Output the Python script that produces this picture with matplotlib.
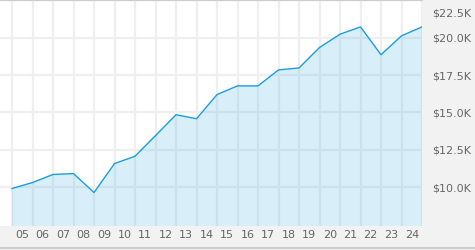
import numpy as np
import matplotlib
matplotlib.use("Agg")
import matplotlib.pyplot as plt
from matplotlib.transforms import ScaledTranslation

# yearly values, one point per year boundary (2005 .. 2025)
values = [9910, 10310, 10850, 10910, 9640, 11580, 12070, 13450, 14850, 14580,
          16200, 16780, 16780, 17850, 17980, 19350, 20240, 20730, 18870, 20130,
          20730]
year_labels = ['05', '06', '07', '08', '09', '10', '11', '12', '13', '14',
               '15', '16', '17', '18', '19', '20', '21', '22', '23', '24']
y_ticks = [10000, 12500, 15000, 17500, 20000, 22500]
y_tick_labels = ['$10.0K', '$12.5K', '$15.0K', '$17.5K', '$20.0K', '$22.5K']

x = np.arange(len(values))

fig = plt.figure(figsize=(4.75, 2.5), dpi=100, facecolor='#f2f2f2')
ax = fig.add_axes([0, 24 / 250, 422 / 475, 226 / 250])
ax.set_facecolor('white')

# translucent fill so the grid shows through slightly
ax.fill_between(x, values, 0, color='#1a9ee0', alpha=0.17, lw=0, zorder=2)
ax.plot(x, values, color='#1a9ee0', lw=1.0, zorder=3)

ax.set_xlim(-12 / 20.5, len(values) - 1)
ax.set_ylim(7400, 22530)

# grid lines at each point, labels centred between them
ax.set_xticks(x, minor=False)
ax.set_xticklabels([])
ax.set_xticks(x[:-1] + 0.5, minor=True)
ax.set_xticklabels(year_labels, minor=True)
ax.set_yticks(y_ticks)
ax.set_yticklabels(y_tick_labels)
ax.yaxis.tick_right()

ax.set_axisbelow(True)
ax.grid(True, which='major', color='#efefef', lw=1.6)
ax.tick_params(which='both', length=0)
ax.tick_params(axis='x', which='minor', labelsize=8, labelcolor='#666666', pad=3)
ax.tick_params(axis='y', labelsize=8, labelcolor='#666666', pad=7)

for lab in ax.get_yticklabels():
    lab.set_horizontalalignment('left')
top = ax.get_yticklabels()[-1]
top.set_transform(top.get_transform() + ScaledTranslation(0, -12 / 100, fig.dpi_scale_trans))

for s in ['left', 'right', 'bottom']:
    ax.spines[s].set_visible(False)
ax.spines['top'].set_color('#cccccc')
ax.spines['top'].set_linewidth(1.5)

# bottom border line
fig.add_artist(plt.Line2D([0, 1], [2 / 250, 2 / 250], color='#cccccc', lw=1.5))

fig.savefig('out.png', dpi=100, facecolor=fig.get_facecolor())
